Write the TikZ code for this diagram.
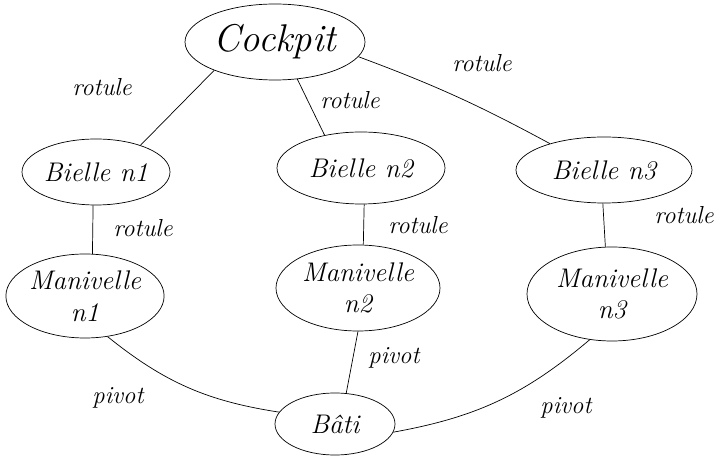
\documentclass[tikz,border=0pt]{standalone}
\usepackage{tikz}
\usetikzlibrary{shapes.geometric}

\tikzset{
  part/.style={ellipse, draw, line width=0.6pt, inner sep=0pt, align=center,
    font=\fontsize{23}{27}\selectfont\itshape},
  joint/.style={font=\fontsize{21}{24}\selectfont\itshape},
  link/.style={line width=0.6pt}
}

\begin{document}
\begin{tikzpicture}[x=0.03cm, y=-0.03cm]
    \useasboundingbox (0,0) rectangle (727,461);

    \node[part, minimum width=5.4cm, minimum height=2.28cm,
          font=\fontsize{33}{37}\selectfont\itshape] (cockpit) at (275,42) {Cockpit};

    \node[part, minimum width=4.44cm, minimum height=1.98cm] (b1) at (96,172) {Bielle n1};
    \node[part, minimum width=5.04cm, minimum height=2.16cm] (b2) at (361,168) {Bielle n2};
    \node[part, minimum width=5.28cm, minimum height=1.98cm] (b3) at (604,170) {Bielle n3};

    \node[part, minimum width=4.5cm, minimum height=2.52cm] (m1) at (85,296) {Manivelle\\n1};
    \node[part, minimum width=4.92cm, minimum height=2.58cm] (m2) at (358,288) {Manivelle\\n2};
    \node[part, minimum width=5.1cm, minimum height=2.82cm] (m3) at (612,294) {Manivelle\\n3};

    \node[part, minimum width=3.6cm, minimum height=1.86cm] (bati) at (335,424) {B\^ati};

    % rotules
    \draw[link] (cockpit.205) -- (b1.31);
    \draw[link] (cockpit.301) -- (b2.138);
    \draw[link] (cockpit.350) to[bend left=4] (b3.154);
    \draw[link] (b1.-95) -- (m1.80);
    \draw[link] (b2.-85) -- (m2.83);
    \draw[link] (b3.-92) -- (m3.98);

    % pivots
    \draw[link] (m1.-61) to[bend right=15] (bati.168);
    \draw[link] (m2.-90) -- (bati.70);
    \draw[link] (m3.-116) to[bend left=15] (bati.-8);

    \node[joint] (r1) at (102,87) {rotule};
    \node[joint] (r2) at (350,100) {rotule};
    \node[joint] (r3) at (482,63) {rotule};
    \node[joint] (r4) at (143,228) {rotule};
    \node[joint] (r5) at (418,225) {rotule};
    \node[joint] (r6) at (684,215) {rotule};

    \node[joint] (p1) at (118,398) {pivot};
    \node[joint] (p2) at (394,358) {pivot};
    \node[joint] (p3) at (566,408) {pivot};
\end{tikzpicture}
\end{document}
